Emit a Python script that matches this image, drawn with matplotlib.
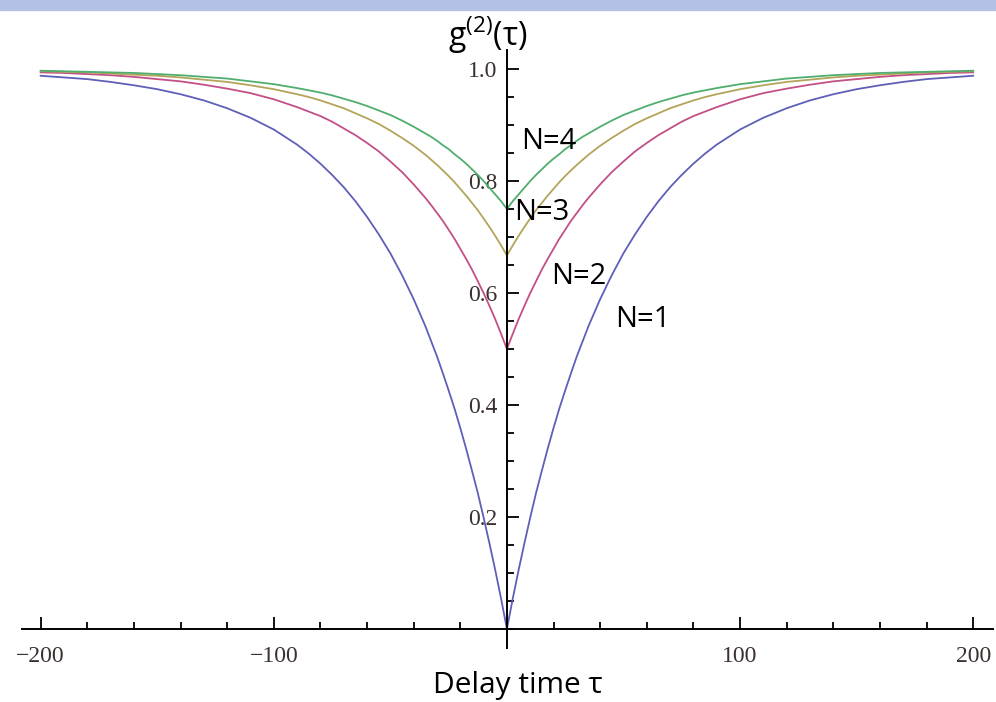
import matplotlib
matplotlib.use("Agg")
import matplotlib.pyplot as plt
from matplotlib.ticker import MultipleLocator
from matplotlib.patches import Rectangle

# delay times (positive side, curves are symmetric)
tau_pos = [0, 2.5, 5, 7.5, 10, 12.5, 15, 17.5, 20, 22.5, 25, 27.5, 30, 32.5, 35, 40, 45, 50, 55,
           60, 65, 70, 75, 80, 85, 90, 100, 110, 120, 130, 140, 150, 160, 170, 180, 190, 200]
g_n1 = [0.0, 0.054, 0.105, 0.153, 0.199, 0.243, 0.283, 0.322, 0.359, 0.394, 0.426, 0.457, 0.487,
        0.514, 0.541, 0.589, 0.632, 0.671, 0.705, 0.736, 0.764, 0.789, 0.811, 0.831, 0.849, 0.865,
        0.892, 0.913, 0.930, 0.944, 0.955, 0.964, 0.971, 0.977, 0.982, 0.985, 0.988]
g_n2 = [0.500, 0.527, 0.553, 0.577, 0.600, 0.621, 0.642, 0.661, 0.679, 0.697, 0.713, 0.729, 0.743,
        0.757, 0.770, 0.794, 0.816, 0.835, 0.853, 0.868, 0.882, 0.894, 0.906, 0.916, 0.924, 0.932,
        0.946, 0.957, 0.965, 0.972, 0.978, 0.982, 0.986, 0.989, 0.991, 0.993, 0.994]
g_n3 = [0.667, 0.685, 0.702, 0.718, 0.733, 0.748, 0.761, 0.774, 0.786, 0.798, 0.809, 0.819, 0.829,
        0.838, 0.847, 0.863, 0.877, 0.890, 0.902, 0.912, 0.921, 0.930, 0.937, 0.944, 0.950, 0.955,
        0.964, 0.971, 0.977, 0.981, 0.985, 0.988, 0.990, 0.992, 0.994, 0.995, 0.996]
g_n4 = [0.750, 0.764, 0.776, 0.788, 0.800, 0.811, 0.821, 0.831, 0.840, 0.848, 0.857, 0.864, 0.872,
        0.879, 0.885, 0.897, 0.908, 0.918, 0.926, 0.934, 0.941, 0.947, 0.953, 0.958, 0.962, 0.966,
        0.973, 0.978, 0.983, 0.986, 0.989, 0.991, 0.993, 0.994, 0.995, 0.996, 0.997]

series = [g_n1, g_n2, g_n3, g_n4]
colors = ["#5f5fb8", "#c24f86", "#b3a45a", "#4fae6e"]
labels = ["N=1", "N=2", "N=3", "N=4"]
label_pos = [(46.5, 0.552), (19, 0.629), (3.2, 0.743), (6.2, 0.870)]

xticks = [-200, -100, 100, 200]
yticks = [0.2, 0.4, 0.6, 0.8, 1.0]

plt.rcParams['mathtext.default'] = 'regular'

fig = plt.figure(figsize=(9.96, 7.02), dpi=100)
ax = fig.add_axes([22 / 996, 54 / 702, 971 / 996, 598 / 702])

# light banner strip at the very top
fig.patches.append(Rectangle((0, 1 - 10 / 702), 1, 10 / 702, transform=fig.transFigure,
                             color="#b3c2e4", zorder=0))

for vals, c in zip(series, colors):
    xs = [-t for t in tau_pos[::-1]] + tau_pos[1:]
    ys = vals[::-1] + vals[1:]
    ax.plot(xs, ys, color=c, lw=1.3)

for (lx, ly), t in zip(label_pos, labels):
    ax.text(lx, ly, t, fontsize=21, family="Open Sans", ha="left", va="center")

ax.set_xlim(-208, 208.5)
ax.set_ylim(-0.034, 1.034)

for s in ["top", "right"]:
    ax.spines[s].set_visible(False)
ax.spines["left"].set_position(("data", 0))
ax.spines["bottom"].set_position(("data", 0))
ax.spines["left"].set_linewidth(1.4)
ax.spines["bottom"].set_linewidth(1.4)

ax.set_xticks(xticks)
ax.set_yticks(yticks)
ax.set_xticklabels(["\u2212200", "\u2212100", "100", "200"])
ax.set_yticklabels(["0.2", "0.4", "0.6", "0.8", "1.0"])
ax.xaxis.set_minor_locator(MultipleLocator(20))
ax.yaxis.set_minor_locator(MultipleLocator(0.05))

ax.tick_params(axis="x", which="both", direction="in", width=1.3, pad=12)
ax.tick_params(axis="y", which="both", direction="in", width=1.3, pad=7)
ax.tick_params(which="major", length=8.5)
ax.tick_params(which="minor", length=5)
for lab in ax.get_xticklabels() + ax.get_yticklabels():
    lab.set_family("Liberation Serif")
    lab.set_fontsize(17)
    lab.set_color("#3a3030")

fig.text(488 / 996, 1 - 35 / 702, r"g$^{(2)}$(τ)", fontsize=23, family="Open Sans",
         ha="center", va="center")
fig.text(518 / 996, 1 - 686 / 702, "Delay time τ", fontsize=21.5, family="Open Sans",
         ha="center", va="center")

fig.savefig("out.png", dpi=100)
